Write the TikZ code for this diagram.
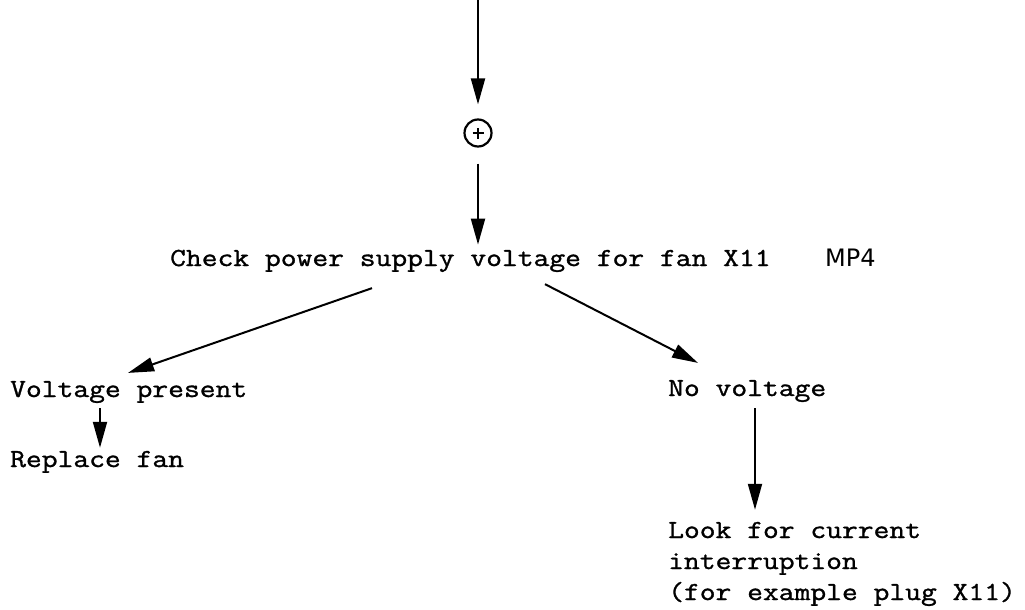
\documentclass[tikz,border=0pt]{standalone}
\usepackage{fontspec}
\setmonofont[FakeStretch=1.18,FakeBold=1.2]{Latin Modern Mono}
\newfontfamily\handfont{DejaVu Sans}
\usetikzlibrary{arrows.meta}
\begin{document}
\begin{tikzpicture}[x=1pt,y=-1pt,
  txt/.style={anchor=base west,inner sep=0pt,font=\fontsize{26}{31}\selectfont\ttfamily},
  arr/.style={line width=2pt,-{Triangle[length=26pt,width=14pt]}}]
\useasboundingbox (0,0) rectangle (1025,610);
\coordinate (top) at (478,0);
\node[circle,draw,line width=2.2pt,minimum size=27pt,inner sep=0pt] (c) at (478,133) {};
\draw[line width=1.8pt] ([xshift=-5.5pt]c.center) -- ([xshift=5.5pt]c.center)
  ([yshift=-5.5pt]c.center) -- ([yshift=5.5pt]c.center);
\node[txt] (check) at (170,266) {Check power supply voltage for fan X11};
\node[anchor=base west,inner sep=0pt,font=\fontsize{24}{31}\selectfont\handfont] (mp) at (825,266) {MP4};
\node[txt] (vp) at (10,397) {Voltage present};
\node[txt] (nv) at (668,396) {No voltage};
\node[txt] (rf) at (10,467) {Replace fan};
\node[txt] (look) at (668,538) {Look for current};
\node[txt] (look2) at (668,569) {interruption};
\node[txt] (look3) at (668,600) {(for example plug X11)};
\draw[arr,shorten >=14pt] (top) -- (c.north);
\draw[arr,shorten <=16pt,shorten >=5pt] (c.south) -- (c.south |- check.north);
\draw[arr] ([xshift=202pt,yshift=-16pt]check.south west) -- ([xshift=118pt,yshift=8pt]vp.north west);
\draw[arr] ([xshift=375pt,yshift=-12pt]check.south west) -- ([xshift=30pt,yshift=17pt]nv.north west);
\draw[arr,shorten <=5pt,shorten >=3pt] ([xshift=90pt]vp.south west) -- ([xshift=90pt]rf.north west);
\draw[arr,shorten <=6pt,shorten >=12pt] ([xshift=87pt]nv.south west) -- ([xshift=87pt]look.north west);
\end{tikzpicture}
\end{document}
